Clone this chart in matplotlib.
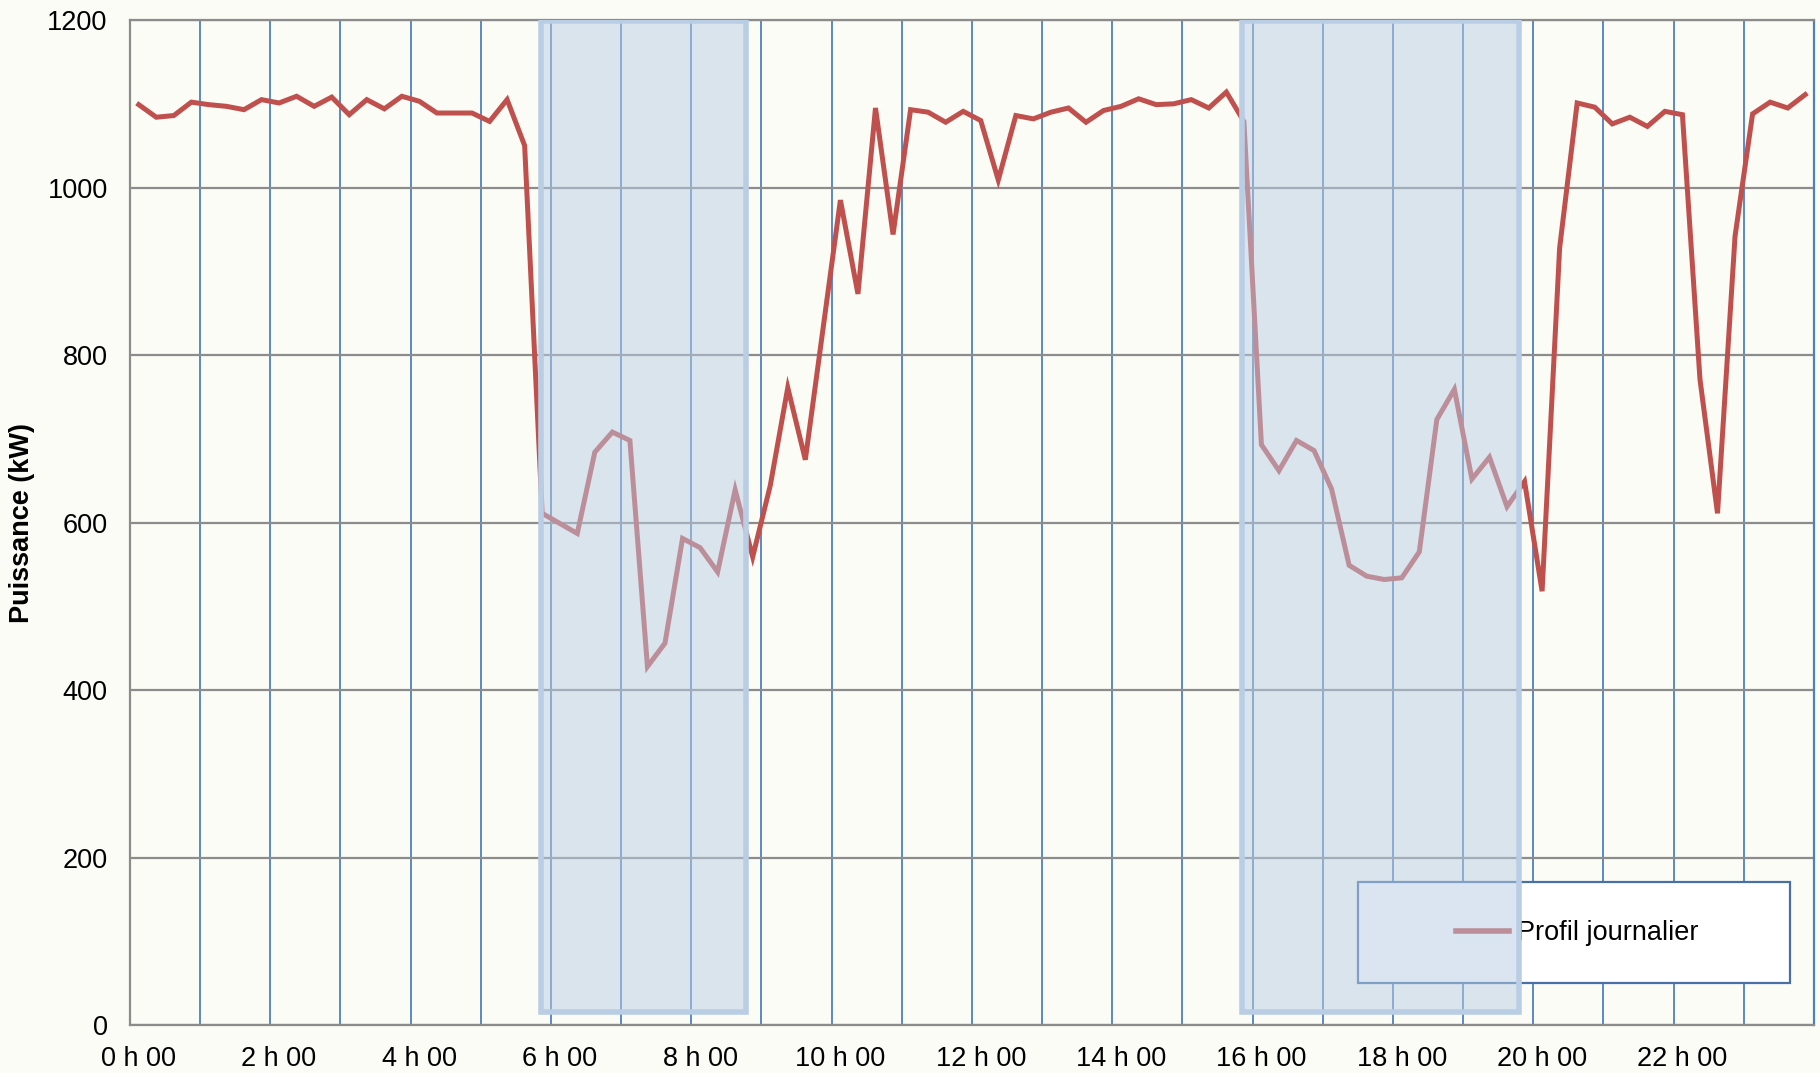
import numpy as np
import matplotlib
matplotlib.use('Agg')
import matplotlib.pyplot as plt
from matplotlib.patches import Rectangle

plt.rcParams['font.family'] = ['Liberation Sans', 'DejaVu Sans']

# daily load profile, one value every 15 min (96 points), kW
puissance = [
    1099, 1084, 1086, 1102, 1099, 1097, 1093, 1105, 1101, 1109,
    1097, 1108, 1087, 1105, 1094, 1109, 1103, 1089, 1089, 1089,
    1079, 1105, 1050, 611, 599, 587, 684, 708, 698, 428,
    456, 581, 570, 541, 639, 559, 644, 761, 675, 830,
    985, 873, 1095, 944, 1093, 1090, 1078, 1091, 1080, 1009,
    1086, 1082, 1090, 1095, 1078, 1092, 1097, 1106, 1099, 1100,
    1105, 1095, 1114, 1079, 693, 662, 698, 686, 640, 549,
    536, 532, 534, 565, 723, 759, 652, 678, 619, 649,
    518, 928, 1101, 1096, 1076, 1084, 1073, 1091, 1087, 771,
    611, 942, 1088, 1102, 1095, 1111,
]
tick_labels = ['0 h 00', '2 h 00', '4 h 00', '6 h 00', '8 h 00', '10 h 00',
               '12 h 00', '14 h 00', '16 h 00', '18 h 00', '20 h 00', '22 h 00']
# highlighted periods (in quarter-hour index units)
periodes = [(22.96, 34.64), (62.88, 78.70)]

BG = '#FBFCF5'
RED = '#C0504D'
BLUE = '#4F81BD'
GREY = '#8C8C8C'
SHADE = '#B9CDE5'
FS = 19.5

fig = plt.figure(figsize=(18.2, 10.73), dpi=100, facecolor=BG)
ax = fig.add_axes([0.0714, 0.0447, 0.9253, 0.9366], facecolor=BG)

x = np.arange(len(puissance))
ax.plot(x, puissance, color=RED, lw=3.6, zorder=2, label='Profil journalier',
        solid_joinstyle='miter')

ax.set_xlim(-0.5, len(puissance) - 0.5)
ax.set_ylim(0, 1200)
ax.set_yticks(np.arange(0, 1201, 200))
ax.set_xticks(np.arange(0, len(puissance), 8))
ax.set_xticklabels(tick_labels)
ax.set_xticks(np.arange(3.5, len(puissance), 4), minor=True)

ax.set_axisbelow(True)
ax.grid(axis='y', which='major', color=GREY, lw=1.6)
ax.grid(axis='x', which='minor', color=BLUE, lw=1.3)
ax.grid(axis='x', which='major', visible=False)

ax.tick_params(axis='both', which='both', length=0, labelsize=FS)
ax.tick_params(axis='x', pad=15)
ax.tick_params(axis='y', pad=16)

for side in ['left', 'bottom', 'top']:
    ax.spines[side].set_color(GREY)
    ax.spines[side].set_linewidth(1.6)
ax.spines['right'].set_color(BLUE)
ax.spines['right'].set_linewidth(1.6)

ax.set_ylabel('Puissance (kW)', fontsize=FS, fontweight='bold')
ax.yaxis.set_label_coords(-0.0562, 0.5)

# legend box (under the shaded periods)
ax.add_patch(Rectangle((0.729, 0.0418), 0.2565, 0.1005, transform=ax.transAxes,
                       facecolor='white', edgecolor='#4A6FA5', lw=1.6, zorder=3))
leg = ax.legend(loc='center', bbox_to_anchor=(0.8595, 0.0915), frameon=False,
                fontsize=FS, handlelength=1.95, handletextpad=0.3)
leg.set_zorder(3.5)
for h in leg.get_lines():
    h.set_linewidth(4)

for x0, x1 in periodes:
    ax.add_patch(Rectangle((x0, 15), x1 - x0, 1184,
                           facecolor=(0.725, 0.804, 0.898, 0.5),
                           edgecolor=SHADE, lw=4, zorder=4))

fig.savefig('out.png', dpi=100, facecolor=BG)
